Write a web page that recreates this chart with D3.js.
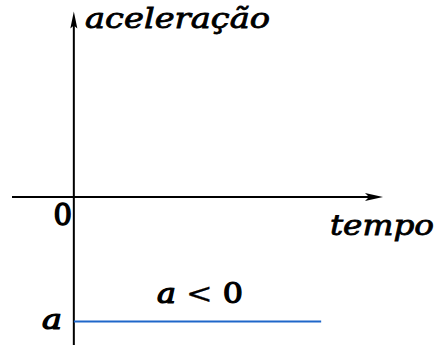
<!DOCTYPE html>
<html><head><meta charset="utf-8">
<script src="https://cdn.jsdelivr.net/npm/d3@7"></script>
<style>body{margin:0;background:#fff;} svg{display:block;}</style>
</head><body>
<script>
// Data
const timeExtent = [-2.5, 12.5];      // axis span (time units)
const accelExtent = [-1.2, 1.49];     // axis span (accel units)
const seriesTime = [0, 10];           // constant acceleration segment
const seriesAccel = [-1, -1];         // a < 0
const axisLabels = {x: "tempo", y: "aceleração"};
const tickLabels = {origin: "0", level: "a"};
const annotation = ["a", " < ", "0"];

const W = 439, H = 345;
const svg = d3.select("body").append("svg").attr("width", W).attr("height", H);

const x = d3.scaleLinear().domain(timeExtent).range([12, 383]);
const y = d3.scaleLinear().domain([-1, 0]).range([321.5, 197]);

const x0 = x(0), y0 = y(0);
const yTop = y(accelExtent[1]);

// axes lines
svg.append("line").attr("x1", x(timeExtent[0])).attr("x2", x(timeExtent[1]) - 10)
  .attr("y1", y0).attr("y2", y0).attr("stroke", "#000").attr("stroke-width", 2);
svg.append("line").attr("x1", x0).attr("x2", x0)
  .attr("y1", yTop + 10).attr("y2", H + 5).attr("stroke", "#000").attr("stroke-width", 2);

// arrowheads
const xe = x(timeExtent[1]);
svg.append("path").attr("d", `M${xe},${y0} L${xe-18},${y0-4} L${xe-14},${y0} L${xe-18},${y0+4} Z`).attr("fill", "#000");
svg.append("path").attr("d", `M${x0},${yTop} L${x0-3.5},${yTop+17} L${x0},${yTop+14} L${x0+3.5},${yTop+17} Z`).attr("fill", "#000");

// series
const pts = seriesTime.map((t, i) => [t, seriesAccel[i]]);
svg.append("path").datum(pts)
  .attr("d", d3.line().x(d => x(d[0])).y(d => y(d[1])))
  .attr("stroke", "#1f67c9").attr("stroke-width", 2.2).attr("fill", "none");

const serif = "DejaVu Serif";
function styleText(sel, size, italic) {
  return sel.style("font-family", serif).style("font-style", italic ? "italic" : "normal")
    .style("font-weight", "normal").style("font-size", size + "px")
    .attr("fill", "#000").attr("stroke", "#000").attr("stroke-width", 0.8);
}

// axis labels
styleText(svg.append("text").attr("x", 85).attr("y", 28).text(axisLabels.y), 27, true)
  .attr("textLength", 185).attr("lengthAdjust", "spacingAndGlyphs");
styleText(svg.append("text").attr("x", 330).attr("y", 235).text(axisLabels.x), 27, true)
  .attr("textLength", 104).attr("lengthAdjust", "spacingAndGlyphs");

// tick labels
styleText(svg.append("text").attr("x", x0 - 11).attr("y", 225).attr("text-anchor", "middle").text(tickLabels.origin), 29, false)
  .attr("stroke-width", 1.4);
styleText(svg.append("text").attr("x", 42).attr("y", y(seriesAccel[0]) + 7.5).text(tickLabels.level), 27, true)
  .attr("textLength", 20).attr("lengthAdjust", "spacingAndGlyphs").attr("stroke-width", 1.2);

// annotation
const ann = styleText(svg.append("text").attr("x", 157).attr("y", 303), 27, false)
  .attr("textLength", 86).attr("lengthAdjust", "spacingAndGlyphs");
ann.append("tspan").style("font-style", "italic").attr("stroke-width", 1.2).text(annotation[0]);
ann.append("tspan").attr("stroke-width", 0.3).text(annotation[1]);
ann.append("tspan").attr("stroke-width", 1.2).text(annotation[2]);
</script>
</body></html>
